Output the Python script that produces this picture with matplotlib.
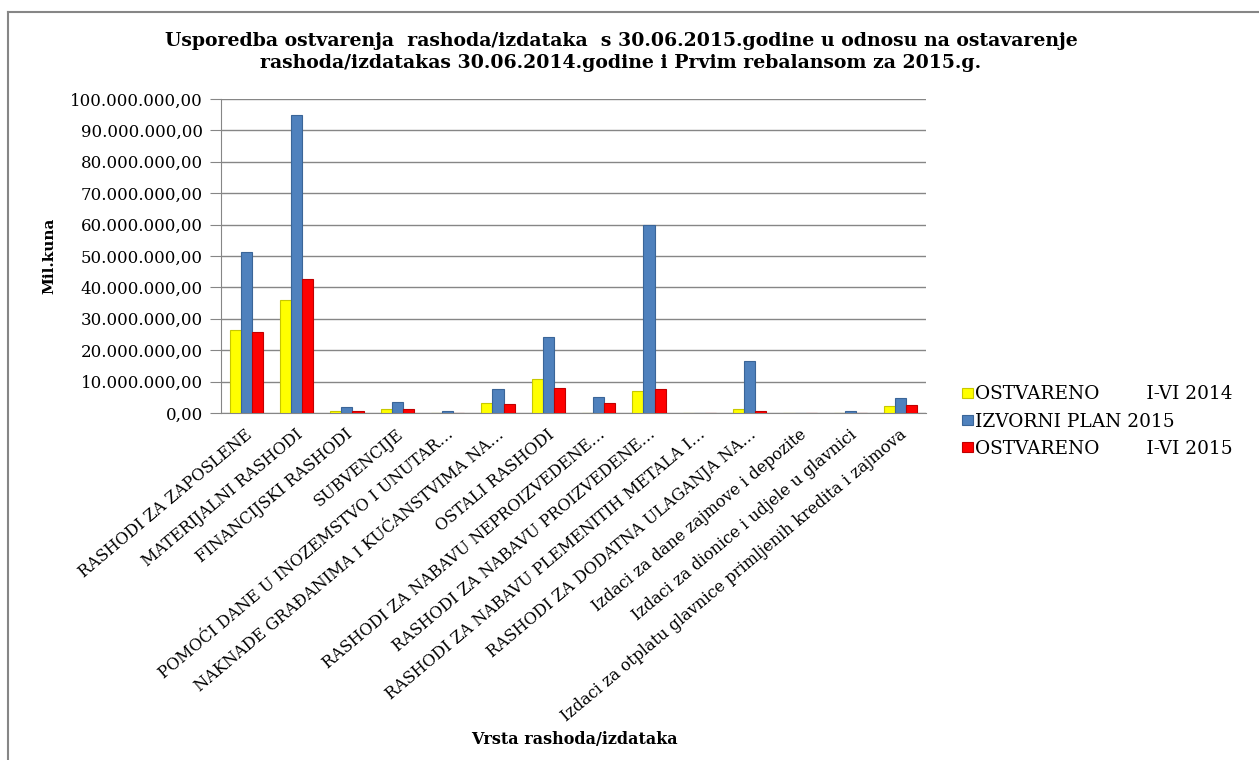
import numpy as np
import matplotlib
matplotlib.use("Agg")
import matplotlib.pyplot as plt
from matplotlib.lines import Line2D
from matplotlib.ticker import FuncFormatter
from matplotlib.transforms import ScaledTranslation

# ======================================
# Data (kuna)
# ======================================

categories = [
    "RASHODI ZA ZAPOSLENE",
    "MATERIJALNI RASHODI",
    "FINANCIJSKI RASHODI",
    "SUBVENCIJE",
    "POMOĆI DANE U INOZEMSTVO I UNUTAR…",
    "NAKNADE GRAĐANIMA I KUĆANSTVIMA NA…",
    "OSTALI RASHODI",
    "RASHODI ZA NABAVU NEPROIZVEDENE…",
    "RASHODI ZA NABAVU PROIZVEDENE…",
    "RASHODI ZA NABAVU PLEMENITIH METALA I…",
    "RASHODI ZA DODATNA ULAGANJA NA…",
    "Izdaci za dane zajmove i depozite",
    "Izdaci za dionice i udjele u glavnici",
    "Izdaci za otplatu glavnice primljenih kredita i zajmova",
]

ostvareno_2014 = [26.3e6, 36.0e6, 0.5e6, 1.3e6, 0.0, 3.2e6, 10.9e6,
                  0.0, 7.1e6, 0.0, 1.3e6, 0.0, 0.0, 2.1e6]
plan_2015 = [51.3e6, 94.9e6, 1.8e6, 3.5e6, 0.5e6, 7.5e6, 24.1e6,
             5.1e6, 60.0e6, 0.0, 16.5e6, 0.0, 0.5e6, 4.9e6]
ostvareno_2015 = [25.8e6, 42.7e6, 0.6e6, 1.3e6, 0.0, 3.0e6, 8.0e6,
                  3.2e6, 7.6e6, 0.0, 0.7e6, 0.0, 0.0, 2.4e6]

series_names = ["OSTVARENO        I-VI 2014", "IZVORNI PLAN 2015", "OSTVARENO        I-VI 2015"]
yticks = np.arange(0, 100e6 + 1, 10e6)

# ======================================
# Figure
# ======================================

# the original looks like a horizontally stretched Times, DejaVu Serif is the closest width
plt.rcParams["font.family"] = ["DejaVu Serif"]

fig = plt.figure(figsize=(12.59, 7.6), dpi=100)
ax = fig.add_axes([221 / 1259, 1 - 413 / 760, 705 / 1259, 314 / 760])

x = np.arange(len(categories))
w = 0.22
colors = ["#ffff00", "#4f81bd", "#ff0000"]
edges = ["#c8c800", "#3a6598", "#c00000"]
for i, (vals, name) in enumerate(zip([ostvareno_2014, plan_2015, ostvareno_2015], series_names)):
    ax.bar(x + (i - 1) * w, vals, width=w, color=colors[i], edgecolor=edges[i],
           linewidth=0.8, label=name, zorder=3)

ax.set_xlim(-0.5, len(categories) - 0.5)
ax.set_ylim(0, 100e6)
ax.set_yticks(yticks)
ax.yaxis.set_major_formatter(FuncFormatter(
    lambda v, p: "{:,.2f}".format(v).replace(",", " ").replace(".", ",").replace(" ", ".")))
ax.grid(axis="y", color="#868686", linewidth=1, zorder=0)
for s in ["top", "right"]:
    ax.spines[s].set_visible(False)
ax.spines["left"].set_color("#868686")
ax.spines["bottom"].set_color("#868686")
ax.tick_params(axis="y", length=8, color="#868686", labelsize=12, pad=5)
ax.tick_params(axis="x", length=0, pad=14)

ax.set_xticks(x)
ax.set_xticklabels(categories, rotation=40, ha="right", va="center",
                   rotation_mode="anchor", fontsize=11.6)
shift = ScaledTranslation(4 / 100, 0, fig.dpi_scale_trans)
for lbl in ax.get_xticklabels():
    lbl.set_transform(lbl.get_transform() + shift)

ax.set_ylabel("Mil.kuna", fontsize=11, fontweight="bold", labelpad=10)
fig.text(574 / 1259, 1 - 740 / 760, "Vrsta rashoda/izdataka", ha="center", va="center",
         fontsize=11.5, fontweight="bold")

fig.text(621 / 1259, 1 - 52 / 760,
         "Usporedba ostvarenja  rashoda/izdataka  s 30.06.2015.godine u odnosu na ostavarenje\n"
         "rashoda/izdatakas 30.06.2014.godine i Prvim rebalansom za 2015.g.",
         ha="center", va="center", fontsize=13.6, fontweight="bold", linespacing=1.3)

leg = fig.legend(loc="upper left", bbox_to_anchor=(955 / 1259, 1 - 378 / 760), frameon=False,
                 fontsize=13.3, handlelength=0.55, handleheight=0.45, handletextpad=0.15,
                 labelspacing=0.5, borderaxespad=0)

# chart border (right and bottom run off the picture)
fig.add_artist(Line2D([8 / 1259, 8 / 1259], [0, 1 - 12 / 760], color="#868686", linewidth=1.5))
fig.add_artist(Line2D([8 / 1259, 1], [1 - 12 / 760, 1 - 12 / 760], color="#868686", linewidth=1.5))

fig.savefig("out.png", dpi=100)
